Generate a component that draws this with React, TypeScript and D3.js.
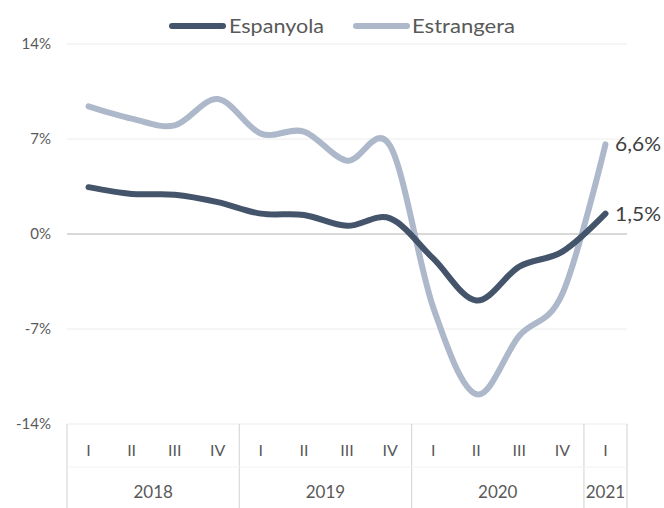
import React from "react";
import * as d3 from "d3";

const quarters = ["I", "II", "III", "IV", "I", "II", "III", "IV", "I", "II", "III", "IV", "I"];
const years = ["2018", "2019", "2020", "2021"];
const yearSpans = [4, 4, 4, 1];
const espanyola = [3.45, 2.95, 2.9, 2.35, 1.5, 1.4, 0.6, 1.15, -1.8, -4.9, -2.4, -1.3, 1.5];
const estrangera = [9.4, 8.5, 8.0, 9.95, 7.4, 7.55, 5.4, 6.5, -5.4, -11.8, -7.5, -4.4, 6.6];
const yTicks = [14, 7, 0, -7, -14];
const seriesNames = ["Espanyola", "Estrangera"];
const endLabels = ["1,5%", "6,6%"];

const W = 664, H = 508;
const colors = ["#44546A", "#ADB9CA"];
const FONT = "Lato, 'Open Sans', sans-serif";

export default function App() {
  const x = d3.scaleBand<number>().domain(d3.range(quarters.length)).range([67, 627]).padding(0);
  const y = d3.scaleLinear().domain([-14, 14]).range([424, 44]);
  const cx = (i: number) => (x(i) as number) + x.bandwidth() / 2;
  const line = d3.line<number>().x((_, i) => cx(i)).y((v) => y(v)).curve(d3.curveCardinal.tension(0));
  const series = [espanyola, estrangera];

  const bounds: number[] = [0];
  let acc = 0;
  yearSpans.forEach((s) => { acc += s; bounds.push(acc); });
  const bx = (k: number) => (k >= quarters.length ? 627 : (x(k) as number));

  const legend = [
    { lx: 172, lw: 51, tx: 229, tl: 95 },
    { lx: 356, lw: 51, tx: 412, tl: 103 },
  ];

  return (
    <svg width={W} height={H} style={{ position: "absolute", left: 0, top: 0, background: "#fff" }} fontFamily={FONT}>
      {yTicks.map((t) => (
        <line key={t} x1={67} x2={627} y1={y(t)} y2={y(t)} stroke={t === 0 ? "#d9d9d9" : "#ececec"} strokeWidth={t === 0 ? 2 : 1} />
      ))}
      {yTicks.map((t) => (
        <text key={"l" + t} x={51} y={y(t)} dy="0.35em" textAnchor="end" fontSize={15} fill="#595959">{t}%</text>
      ))}
      {bounds.map((k) => (
        <line key={"b" + k} x1={bx(k)} x2={bx(k)} y1={424} y2={508} stroke="#d9d9d9" strokeWidth={1.2} />
      ))}
      <line x1={67} x2={627} y1={467} y2={467} stroke="#f2f2f2" strokeWidth={1} />
      {quarters.map((q, i) => (
        <text key={"q" + i} x={cx(i)} y={450} dy="0.35em" textAnchor="middle" fontSize={16} fill="#595959">{q}</text>
      ))}
      {years.map((yr, j) => {
        const mid = (bx(bounds[j]) + bx(bounds[j + 1])) / 2;
        return (
          <text key={"y" + yr} x={mid} y={492} dy="0.35em" textAnchor="middle" fontSize={17} fill="#595959">{yr}</text>
        );
      })}
      {[1, 0].map((s) => (
        <path key={"p" + s} d={line(series[s]) || ""} fill="none" stroke={colors[s]} strokeWidth={6} strokeLinecap="round" strokeLinejoin="round" />
      ))}
      {series.map((vals, s) => (
        <text key={"e" + s} x={615} y={y(vals[vals.length - 1]) + (s === 0 ? 1 : 0)} dy="0.35em" fontSize={19} fill="#404040" textLength={46} lengthAdjust="spacingAndGlyphs">{endLabels[s]}</text>
      ))}
      {seriesNames.map((n, s) => {
        const L = legend[s];
        return (
          <g key={"lg" + s}>
            <line x1={L.lx} x2={L.lx + L.lw} y1={26} y2={26} stroke={colors[s]} strokeWidth={6} strokeLinecap="round" />
            <text x={L.tx} y={26} dy="0.35em" fontSize={19.5} fill="#595959" textLength={L.tl} lengthAdjust="spacingAndGlyphs">{n}</text>
          </g>
        );
      })}
    </svg>
  );
}
